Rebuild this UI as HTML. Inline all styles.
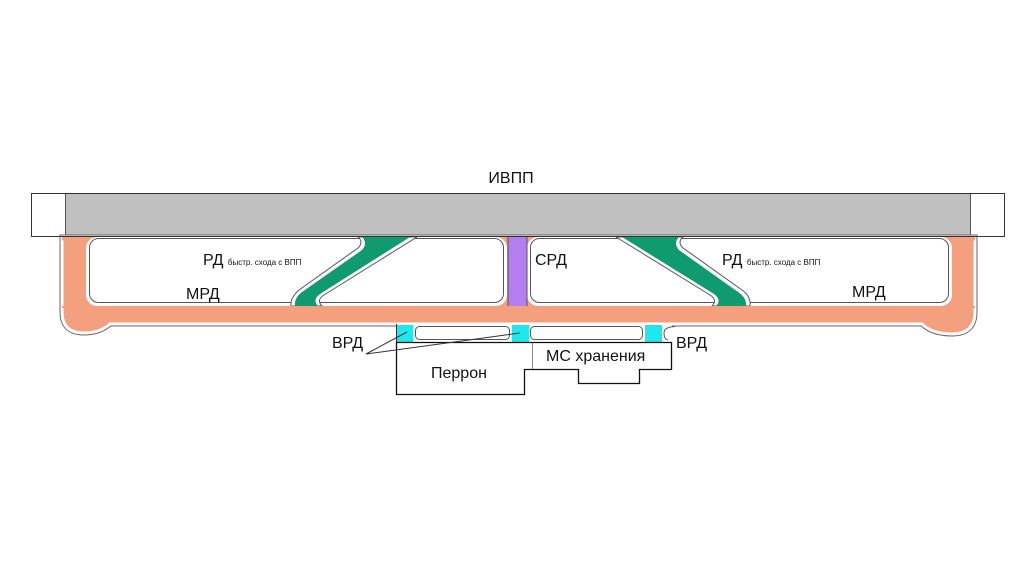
<!DOCTYPE html>
<html><head><meta charset="utf-8"><style>
html,body{margin:0;padding:0;background:#fff;width:1024px;height:574px;overflow:hidden}
svg{display:block}
text{font-family:"Liberation Sans",Arial,sans-serif;fill:#111}
</style></head><body>
<svg width="1024" height="574" viewBox="0 0 1024 574" xmlns="http://www.w3.org/2000/svg">
<!-- runway -->
<rect x="31.5" y="193.5" width="973" height="43" fill="#fff" stroke="#333" stroke-width="1"/>
<rect x="65" y="194" width="905" height="42" fill="#c0c0c0"/>
<line x1="65.5" y1="194" x2="65.5" y2="236" stroke="#555"/>
<line x1="970.5" y1="194" x2="970.5" y2="236" stroke="#555"/>
<!-- salmon frame -->
<path d="M62,237 H975 V312 Q975,334 952,334 Q932,334 922,324 H110 Q100,333 84,333 Q62,333 62,312 Z" fill="none" stroke="#666" stroke-width="5"/>
<path d="M62,237 H975 V312 Q975,334 952,334 Q932,334 922,324 H110 Q100,333 84,333 Q62,333 62,312 Z" fill="#f4a07e" stroke="#fff" stroke-width="3"/>
<rect x="62" y="236.5" width="913" height="4" fill="#f4a07e"/>
<!-- islands -->
<rect x="86" y="237" width="421" height="69" rx="11" fill="#fff"/>
<rect x="89.5" y="238.5" width="414" height="64" rx="9" fill="none" stroke="#555"/>
<rect x="527" y="237" width="425" height="69" rx="11" fill="#fff"/>
<rect x="530.5" y="238.5" width="418" height="64" rx="9" fill="none" stroke="#555"/>
<!-- purple -->
<rect x="508" y="237" width="19" height="69" fill="#b57ef0"/>
<line x1="508" y1="237" x2="508" y2="306" stroke="#555"/>
<line x1="527" y1="237" x2="527" y2="306" stroke="#555"/>
<!-- green left -->
<path d="M358,237 Q364,242 358,248 L299,290 Q290,298 291,306 H322 Q316,300 324,295 L417,237 Z" fill="#fff" stroke="#555" stroke-width="1"/>
<path d="M362,237 Q368,243 362,250 L302,292 Q294,298 295,306 H318 Q312,300 320,294 L410,237 Z" fill="#0f9a70"/>
<!-- green right -->
<path d="M616,237 L710,295 Q718,300 712,306 H750 Q751,296 742,290 L683,248 Q677,242 683,237 Z" fill="#fff" stroke="#555" stroke-width="1"/>
<path d="M622,237 L714,294 Q722,300 716,306 H746 Q747,298 738,292 L679,250 Q673,243 679,237 Z" fill="#0f9a70"/>
<line x1="60" y1="236.5" x2="977" y2="236.5" stroke="#333"/>
<rect x="62" y="306" width="913" height="2" fill="#f4a07e"/>
<!-- cyan + small islands -->
<rect x="396" y="324" width="276" height="19" fill="#fff"/>
<rect x="396" y="325" width="17" height="17" fill="#1de8ee"/>
<rect x="512" y="325" width="17" height="17" fill="#1de8ee"/>
<rect x="645" y="325" width="17" height="17" fill="#1de8ee"/>
<rect x="415.5" y="326.5" width="94" height="13" rx="4" fill="#fff" stroke="#555"/>
<rect x="530.5" y="326.5" width="112" height="13" rx="4" fill="#fff" stroke="#555"/>
<path d="M675,326.5 Q664,327 664,333 Q664,339 668,340" fill="none" stroke="#555"/>
<line x1="396.5" y1="324" x2="396.5" y2="342" stroke="#333"/>
<!-- perron / MS -->
<path d="M396.5,342.5 H671.5 V369.5 H639.5 V383.5 H578.5 V369.5 H524.5 V394.5 H396.5 Z" fill="#fff" stroke="#111" stroke-width="1.3"/>
<line x1="532.5" y1="343" x2="532.5" y2="369" stroke="#888"/>
<!-- VRD pointer lines -->
<polyline points="407,332 366,354 520,333" fill="none" stroke="#333" stroke-width="1"/>
<!-- labels -->
<text x="511" y="183" font-size="16" text-anchor="middle">ИВПП</text>
<text x="203" y="265" font-size="16">РД <tspan font-size="8">быстр. схода с ВПП</tspan></text>
<text x="186" y="299" font-size="16">МРД</text>
<text x="535" y="265" font-size="16">СРД</text>
<text x="722" y="265" font-size="16">РД <tspan font-size="8">быстр. схода с ВПП</tspan></text>
<text x="852" y="297" font-size="16">МРД</text>
<text x="332" y="348" font-size="16">ВРД</text>
<text x="676" y="348" font-size="16">ВРД</text>
<text x="431" y="378" font-size="16">Перрон</text>
<text x="546" y="361" font-size="16">МС хранения</text>
</svg>
</body></html>
